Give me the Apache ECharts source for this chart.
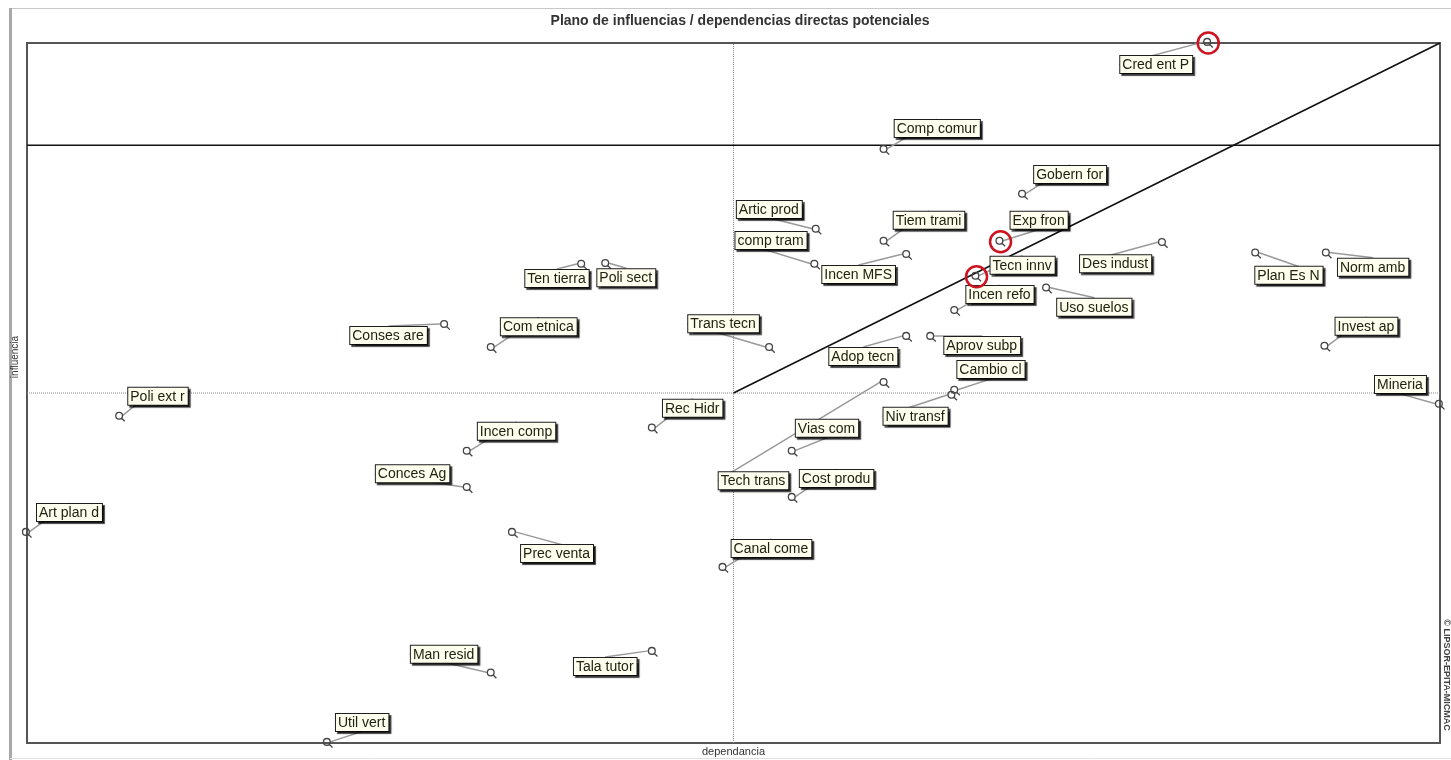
<!DOCTYPE html>
<html>
<head>
<meta charset="utf-8">
<script src="https://cdn.jsdelivr.net/npm/echarts@6/dist/echarts.min.js"></script>
<style>
html,body{margin:0;padding:0;background:#fff;}
#chart{width:1451px;height:760px;}
</style>
</head>
<body>
<div id="chart"></div>
<script>
// ---- data ----
const CATEGORIES = [
  'Cred ent P','Comp comur','Gobern for','Exp fron','Tecn innv','Incen refo','Des indust','Plan Es N',
  'Norm amb','Uso suelos','Invest ap','Mineria','Aprov subp','Cambio cl','Niv transf','Adop tecn',
  'Tiem trami','Incen MFS','comp tram','Artic prod','Trans tecn','Rec Hidr','Vias com','Tech trans',
  'Cost produ','Canal come','Prec venta','Tala tutor','Man resid','Util vert','Art plan d','Conces Ag',
  'Incen comp','Poli ext r','Conses are','Com etnica','Ten tierra','Poli sect'
];
const DEPENDENCIA = [
  83.6, 60.7, 70.5, 68.9, 67.2, 65.7, 80.4, 87.0,
  92.0, 72.2, 91.9, 100.0, 64.0, 65.7, 65.5, 62.3,
  60.7, 62.3, 55.8, 55.9, 52.6, 44.3, 54.2, 60.7,
  54.2, 49.3, 34.4, 44.3, 32.9, 21.3, 0.0, 31.2,
  31.2, 6.6, 29.6, 32.9, 39.3, 41.0
];
const INFLUENCIA = [
  100.0, 84.7, 78.3, 71.6, 66.6, 61.7, 71.4, 69.9,
  69.9, 64.9, 56.6, 48.3, 58.0, 50.3, 49.6, 58.0,
  71.6, 69.7, 68.3, 73.3, 56.4, 44.9, 41.6, 51.4,
  35.0, 25.0, 30.0, 13.0, 9.9, 0.0, 30.0, 36.4,
  41.6, 46.6, 59.7, 56.4, 68.3, 68.4
];
const HIGHLIGHTED = ['Cred ent P', 'Exp fron', 'Tecn innv'];
const AXIS_MIN = 0, AXIS_MAX = 100;
const MEDIAN_X = 50, MEDIAN_Y = 50;
const THRESHOLD_Y = 85.4;
const TITLE = 'Plano de influencias / dependencias directas potenciales';
const X_NAME = 'dependancia';
const Y_NAME = 'influencia';
const WATERMARK = '\u00A9 LIPSOR-EPITA-MICMAC';

// ---- label layout (pixel offsets of each label box from its point) ----
const LABEL_DX = [
  -88, 10, 11, 10, 14, 11, -83, -1,
  11, 10, 10, -65, 13, 2, -69, -78,
  9, -85, -80, -80, -82, 10, 3, -166,
  7, 8, 8, -79, -81, 8, 10, -92,
  10, 8, -95, 9, -57, -9
];
const LABEL_DY = [
  13, -30, -29, -30, -20, -25, 12, 13,
  5, 10, -29, -29, 0, -30, 12, 11,
  -30, 11, -33, -29, -33, -29, -32, 89,
  -28, -28, 12, 6, -28, -29, -29, -23,
  -29, -29, 2, -30, 5, 5
];

const points = CATEGORIES.map((n, i) => ({ name: n, value: [DEPENDENCIA[i], INFLUENCIA[i]] }));
const hiPoints = points.filter(p => HIGHLIGHTED.indexOf(p.name) >= 0);

const chart = echarts.init(document.getElementById('chart'), null, { renderer: 'canvas' });
const FONT = 'Arial, "Liberation Sans", sans-serif';
const GRID = { left: 27, right: 11, top: 43, bottom: 17 };

const lineSeries = (data, color, width, type) => ({
  type: 'line', data: data, symbol: 'none', silent: true, z: 1,
  lineStyle: { color: color, width: width, type: type }, animation: false
});

chart.setOption({
  animation: false,
  backgroundColor: '#fff',
  title: {
    text: TITLE, left: 735, top: 9, textAlign: 'center',
    textStyle: { fontFamily: FONT, fontSize: 14, fontWeight: 'bold', color: '#333' }
  },
  grid: { left: GRID.left, right: GRID.right, top: GRID.top, bottom: GRID.bottom,
          outerBoundsMode: 'none', containLabel: false,
          show: true, borderColor: '#555', borderWidth: 2, backgroundColor: '#fff' },
  xAxis: {
    type: 'value', min: AXIS_MIN, max: AXIS_MAX,
    name: X_NAME, nameLocation: 'middle', nameGap: 3,
    nameTextStyle: { fontFamily: FONT, fontSize: 11, color: '#333' },
    axisLine: { show: false }, axisTick: { show: false }, axisLabel: { show: false }, splitLine: { show: false }
  },
  yAxis: {
    type: 'value', min: AXIS_MIN, max: AXIS_MAX,
    axisLine: { show: false }, axisTick: { show: false }, axisLabel: { show: false }, splitLine: { show: false }
  },
  graphic: [
    { type: 'line', shape: { x1: 10, y1: 8.5, x2: 1451, y2: 8.5 }, style: { stroke: '#c8c8c8', lineWidth: 1 }, silent: true },
    { type: 'line', shape: { x1: 10.5, y1: 8, x2: 10.5, y2: 760 }, style: { stroke: '#a8a8a8', lineWidth: 3 }, silent: true },
    { type: 'line', shape: { x1: 10, y1: 758.5, x2: 1451, y2: 758.5 }, style: { stroke: '#e0e0e0', lineWidth: 1 }, silent: true },
    { type: 'text', x: 15, y: 357, rotation: Math.PI / 2,
      style: { text: Y_NAME, font: '10px ' + FONT, fill: '#333', align: 'center', verticalAlign: 'middle' }, silent: true },
    { type: 'text', x: 1446, y: 675, rotation: -Math.PI / 2,
      style: { text: WATERMARK, font: 'bold 9px ' + FONT, fill: '#444', align: 'center', verticalAlign: 'middle' }, silent: true }
  ],
  series: [
    lineSeries([[MEDIAN_X, AXIS_MIN], [MEDIAN_X, AXIS_MAX]], '#8c8c8c', 1, 'dotted'),
    lineSeries([[AXIS_MIN, MEDIAN_Y], [AXIS_MAX, MEDIAN_Y]], '#8c8c8c', 1, 'dotted'),
    lineSeries([[MEDIAN_X, MEDIAN_Y], [AXIS_MAX, AXIS_MAX]], '#111', 1.6, 'solid'),
    lineSeries([[AXIS_MIN, THRESHOLD_Y], [AXIS_MAX, THRESHOLD_Y]], '#111', 1.6, 'solid'),
    {
      type: 'scatter', z: 5, data: points,
      symbol: 'path://M0,3a3,3 0 1,0 6,0a3,3 0 1,0 -6,0M5,5L8,8',
      symbolSize: 9, symbolKeepAspect: true,
      itemStyle: { color: 'rgba(0,0,0,0)', borderColor: '#444', borderWidth: 1.3, opacity: 1 },
      label: {
        show: true, formatter: '{b}', position: 'inside',
        fontFamily: FONT, fontSize: 14, lineHeight: 16, color: '#22220f',
        backgroundColor: '#fffff0', borderColor: '#1e1e1e', borderWidth: 1,
        padding: [1, 3, 0, 2],
        shadowColor: 'rgba(0,0,0,0.7)', shadowOffsetX: 2, shadowOffsetY: 2, shadowBlur: 1
      },
      labelLine: { show: true, lineStyle: { color: '#9a9a9a', width: 1.5 } },
      labelLayout: function (p) {
        const i = p.dataIndex;
        const cx = p.rect.x + p.rect.width / 2;
        const cy = p.rect.y + p.rect.height / 2;
        return { x: cx + LABEL_DX[i], y: cy + LABEL_DY[i], align: 'left', verticalAlign: 'top' };
      }
    },
    {
      type: 'scatter', z: 6, data: hiPoints, symbol: 'circle', symbolSize: 21, silent: true,
      itemStyle: { color: 'rgba(0,0,0,0)', borderColor: '#cc1420', borderWidth: 2.5, opacity: 1 }
    }
  ]
});
</script>
</body>
</html>
